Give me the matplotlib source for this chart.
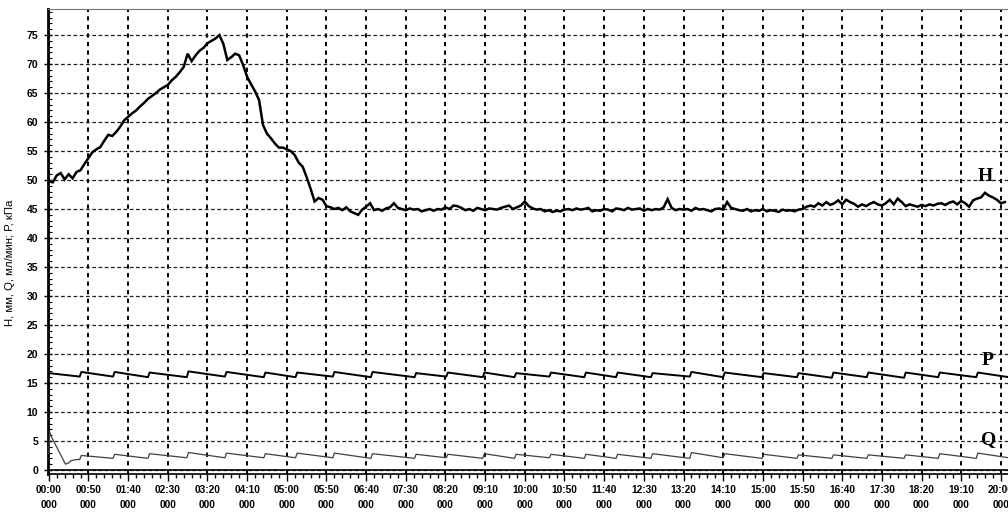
import numpy as np
import matplotlib
matplotlib.use("Agg")
import matplotlib.pyplot as plt

# ---------------- data ----------------
# H sampled every 5 minutes starting at 00:00
H_values = [
    49.8, 49.6, 50.8, 51.2, 50.1, 51.0, 50.3, 51.4, 51.7, 52.8,
    53.8, 54.8, 55.3, 55.7, 56.8, 57.8, 57.6, 58.3, 59.2, 60.3,
    60.9, 61.5, 62.0, 62.7, 63.3, 64.0, 64.5, 65.0, 65.6, 66.0,
    66.4, 67.2, 67.8, 68.6, 69.5, 71.8, 70.5, 71.5, 72.3, 72.8,
    73.6, 74.0, 74.4, 75.0, 73.5, 70.7, 71.2, 71.8, 71.5, 69.8,
    67.8, 66.5, 65.3, 63.8, 59.5, 58.0, 57.2, 56.3, 55.6, 55.6,
    55.3, 55.0, 54.3, 53.0, 52.3, 50.5, 48.5, 46.3, 46.9, 46.6,
    45.5, 45.3, 45.0,
    45.2, 44.8, 45.3, 44.6, 44.3, 44.0, 44.9, 45.4, 46.0, 44.8,
    45.0, 44.7, 45.1, 45.3, 46.0, 45.2, 45.0, 44.8, 45.1, 44.9,
    45.0, 44.6, 44.8, 45.0, 44.7, 45.0, 44.9, 45.3, 45.0, 45.6,
    45.5, 45.2, 44.8, 45.0, 44.7, 45.2, 45.0, 44.8, 45.1, 45.0,
    44.9, 45.2, 45.4, 45.6, 45.0, 45.3, 45.6, 46.3, 45.5, 45.1,
    44.9, 45.0, 44.6, 44.8, 44.5, 44.7, 44.6, 44.9, 45.0, 44.8,
    45.1, 44.9, 45.0, 45.2, 44.6, 44.8, 44.7, 45.0, 44.9, 44.6,
    45.1, 45.0, 44.8, 45.2, 44.9, 45.0, 45.1, 44.7, 45.0, 44.8,
    45.0, 44.9, 45.3, 46.7, 45.2, 44.8, 45.0, 44.9, 45.0, 44.7,
    45.2, 44.9, 45.0, 44.8, 44.6, 45.0, 45.1, 44.9, 46.2, 45.2,
    45.0, 44.8, 44.7, 45.0, 44.6, 44.8, 44.7, 45.0, 44.6, 44.8,
    44.7, 44.5, 44.9, 44.7, 44.8, 44.6, 44.9, 45.0, 45.4, 45.6,
    45.4, 46.0, 45.6, 46.2, 45.7, 46.0, 46.5, 45.8, 46.6, 46.2,
    45.9, 45.4, 45.8, 45.5, 45.9, 46.2, 45.8, 45.6, 46.0, 46.6,
    45.8, 46.8, 46.2, 45.5, 45.8, 45.6, 45.4, 45.7, 45.5, 45.8,
    45.6, 45.9, 46.0, 45.7, 46.1, 46.3, 45.8, 46.4, 46.0, 45.4,
    46.5, 46.8, 47.0, 47.8, 47.3, 47.0, 46.6, 46.0, 46.2,
]
H_step_min = 5

# pump cycle jumps (minutes) shared by P and Q
jump_min = [39, 81, 125, 174, 222, 271, 311, 358, 406, 461, 501, 547, 587,
            631, 675, 715, 759, 808, 850, 899, 943, 987, 1031, 1078, 1121, 1169]

P_start = 16.7
P_before = [16.1, 16.1, 16.0, 16.0, 16.1, 16.0, 16.0, 16.1, 16.0, 16.0, 16.1, 16.0, 16.0,
            16.1, 16.0, 16.0, 16.0, 16.1, 16.0, 16.0, 16.0, 15.9, 16.0, 15.9, 16.0, 16.0]
P_after = [16.9, 16.9, 16.8, 17.0, 16.9, 16.8, 16.8, 16.9, 16.9, 16.7, 16.8, 16.8, 16.7,
           16.8, 16.8, 16.8, 16.7, 16.9, 16.8, 16.7, 16.7, 16.8, 16.8, 16.8, 16.8, 16.8]
P_end = (1210, 16.0)

Q_start_t = [0, 1, 3, 21, 25, 28, 35]
Q_start_v = [2.8, 6.6, 5.8, 1.0, 1.2, 1.6, 1.8]
Q_before = [1.8, 2.0, 2.0, 2.1, 2.1, 2.1, 2.1, 2.1, 2.0, 2.0, 2.1, 2.0, 2.0,
            2.1, 2.0, 2.0, 2.0, 2.0, 2.1, 2.0, 2.0, 2.0, 2.0, 2.0, 2.0, 2.0]
Q_after = [2.5, 2.7, 2.8, 3.0, 2.9, 2.8, 2.9, 2.9, 2.8, 2.7, 2.7, 2.8, 2.7,
           2.7, 2.7, 2.7, 2.8, 3.0, 2.8, 2.7, 2.6, 2.6, 2.6, 2.6, 2.8, 2.9]
Q_end = (1210, 2.1)

xtick_min = [0, 50, 100, 150, 200, 250, 300, 350, 400, 450, 500, 550, 600,
             650, 700, 750, 800, 850, 900, 950, 1000, 1050, 1100, 1150, 1200]
xtick_labels = ["00:00", "00:50", "01:40", "02:30", "03:20", "04:10", "05:00",
                "05:50", "06:40", "07:30", "08:20", "09:10", "10:00", "10:50",
                "11:40", "12:30", "13:20", "14:10", "15:00", "15:50", "16:40",
                "17:30", "18:20", "19:10", "20:00"]
ytick_vals = [0, 5, 10, 15, 20, 25, 30, 35, 40, 45, 50, 55, 60, 65, 70, 75]
ylabel_text = "Н, мм, Q, мл/мин; Р, кПа"

# ---------------- build series ----------------
H_t = np.arange(len(H_values)) * H_step_min

P_t, P_v = [0], [P_start]
for j, b, a in zip(jump_min, P_before, P_after):
    P_t += [j, j + 2]
    P_v += [b, a]
P_t.append(P_end[0]); P_v.append(P_end[1])

Q_t, Q_v = list(Q_start_t), list(Q_start_v)
for j, b, a in zip(jump_min, Q_before, Q_after):
    Q_t += [j, j + 2]
    Q_v += [b, a]
Q_t.append(Q_end[0]); Q_v.append(Q_end[1])

# ---------------- figure ----------------
fig = plt.figure(figsize=(10.08, 5.13), dpi=100)
ax = fig.add_axes([48 / 1008, 39 / 513, 1 - 48 / 1008, (474 - 9) / 513])
ax.set_xlim(-1, 1209)
ax.set_ylim(-0.7, 79.5)

ax.plot(H_t, H_values, color="black", lw=1.8, solid_joinstyle="miter", zorder=5)
ax.plot(P_t, P_v, color="black", lw=1.4, zorder=5)
ax.plot(Q_t, Q_v, color="#404040", lw=0.9, zorder=5)
ax.axhline(0, color="black", lw=1.2, zorder=4)

ax.set_xticks(xtick_min)
ax.set_xticklabels([l + "\n000" for l in xtick_labels],
                   fontsize=7.3, fontweight="bold", family="Liberation Sans",
                   linespacing=1.55)
ax.set_xticks(np.arange(0, 1210, 10), minor=True)
ax.set_yticks(ytick_vals)
ax.set_yticklabels([str(v) for v in ytick_vals], fontsize=7.5,
                   fontweight="bold", family="Liberation Sans")
ax.set_yticks(np.arange(0, 80, 1), minor=True)

ax.tick_params(axis="x", which="major", direction="out", length=5, width=1, pad=3)
ax.tick_params(axis="x", which="minor", direction="out", length=3, width=1)
ax.tick_params(axis="y", which="major", direction="inout", length=6, width=1, pad=4)
ax.tick_params(axis="y", which="minor", direction="in", length=3, width=0.8)

ax.xaxis.grid(True, which="major", ls=(0, (2.2, 2.2)), lw=1.4, color="black")
ax.yaxis.grid(True, which="major", ls=(0, (3, 2)), lw=0.9, color="#222222")

ax.spines["left"].set_linewidth(2.0)
ax.spines["bottom"].set_linewidth(1.2)
ax.spines["top"].set_linewidth(0.8)
ax.spines["top"].set_color("#777777")
ax.spines["right"].set_visible(False)

ax.set_ylabel(ylabel_text, fontsize=8.2, family="Liberation Sans")
ax.yaxis.set_label_coords(-0.034, 0.455)

serif = dict(family="Liberation Serif", fontweight="bold", fontsize=14,
             ha="center", va="center", zorder=6)
ax.text(1180, 50.6, "H", **serif)
ax.text(1183, 18.9, "P", **serif)
ax.text(1184, 5.3, "Q", **serif)

fig.savefig("out.png", dpi=100)
